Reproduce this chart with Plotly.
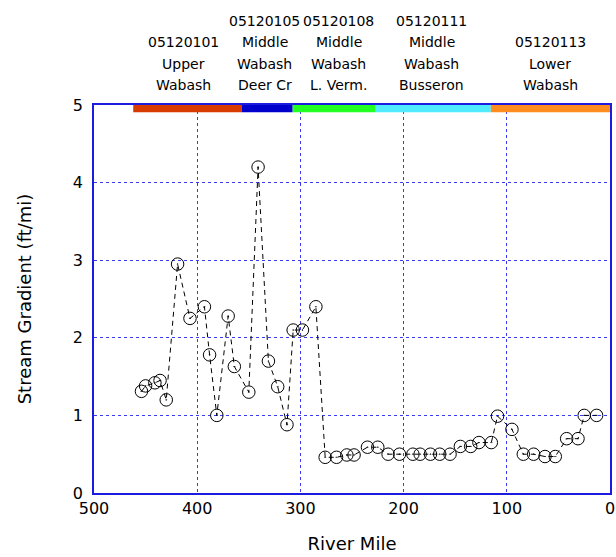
import plotly.graph_objects as go

# River mile / stream gradient data
river_mile = [454, 450, 441, 436, 430, 419, 407, 393, 388, 381, 370, 364, 350, 341,
              331, 322, 313, 307, 298, 285, 276, 265, 255, 248, 235, 225, 215, 204,
              191, 184, 174, 165, 155, 145, 135, 127, 115, 109, 95, 84, 74, 63, 53,
              42, 31, 25, 13]
gradient = [1.31, 1.38, 1.42, 1.45, 1.20, 2.95, 2.25, 2.40, 1.78, 1.00, 2.28, 1.63, 1.30, 4.20,
            1.70, 1.37, 0.88, 2.10, 2.10, 2.40, 0.46, 0.46, 0.49, 0.49, 0.59, 0.59, 0.50, 0.50,
            0.50, 0.50, 0.50, 0.50, 0.50, 0.60, 0.60, 0.65, 0.65, 0.99, 0.82, 0.50, 0.50, 0.47, 0.47,
            0.70, 0.70, 1.00, 1.00]

# Watershed (HUC) segments along the river
seg_start = [462, 357, 307.5, 227, 115.5]
seg_end = [357, 307.5, 227, 115.5, 0]
seg_colors = ["#D83A00", "#0000CC", "#22FF22", "#50EBFF", "#FF8C1E"]
seg_label_mile = [413, 334.5, 263, 172.5, 58]
seg_labels = [
    ["05120101", "Upper", "Wabash"],
    ["05120105", "Middle", "Wabash", "Deer Cr"],
    ["05120108", "Middle", "Wabash", "L. Verm."],
    ["05120111", "Middle", "Wabash", "Busseron"],
    ["05120113", "Lower", "Wabash"],
]

FONT = "DejaVu Sans"

fig = go.Figure()
fig.add_trace(go.Scatter(
    x=river_mile, y=gradient, mode="lines+markers",
    line=dict(color="black", width=1, dash="5px,4px"),
    marker=dict(symbol="circle-open-dot", size=12.5, color="black", line=dict(width=1, color="black")),
    showlegend=False,
))

shapes = []
for s, e, c in zip(seg_start, seg_end, seg_colors):
    shapes.append(dict(type="rect", xref="x", yref="y", x0=s, x1=e, y0=4.905, y1=5.0,
                       fillcolor=c, line=dict(width=0), layer="above"))

annotations = []
line_h = 21.5
for m, lines in zip(seg_label_mile, seg_labels):
    n = len(lines)
    for i, t in enumerate(lines):
        annotations.append(dict(x=m, xref="x", y=1, yref="paper", text=t, showarrow=False,
                                xanchor="center", yanchor="middle",
                                yshift=20 + (n - 1 - i) * line_h,
                                font=dict(family=FONT, size=14, color="black")))

grid = dict(showgrid=True, gridcolor="#3A3AF0", griddash="dot", gridwidth=1,
            showline=True, linecolor="#1C1CE0", linewidth=1.5, mirror=True,
            zeroline=False, ticks="", automargin=False,
            tickfont=dict(family=FONT, size=16, color="black"))

fig.update_layout(
    width=616, height=557,
    margin=dict(l=94, r=6, t=105, b=64),
    paper_bgcolor="white", plot_bgcolor="white",
    xaxis=dict(range=[500, 0], tickvals=[500, 400, 300, 200, 100, 0],
               title=dict(text="River Mile", font=dict(family=FONT, size=18, color="black"), standoff=20),
               **grid),
    yaxis=dict(range=[0, 5], tickvals=[0, 1, 2, 3, 4, 5],
               title=dict(text="Stream Gradient (ft/mi)", font=dict(family=FONT, size=18, color="black"), standoff=37),
               ticklabelstandoff=6,
               **grid),
    shapes=shapes, annotations=annotations,
)

fig.write_html(
    "out.html",
    config={"displayModeBar": False},
    post_script="document.body.style.margin='0';document.documentElement.style.overflow='hidden';document.body.style.overflow='hidden';",
)
